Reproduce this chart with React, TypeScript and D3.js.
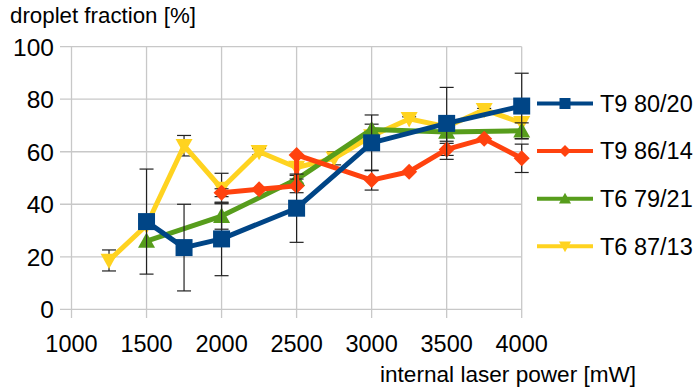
import React from "react";
import * as d3 from "d3";

const W = 697;
const H = 389;

const xTicks = [1000, 1500, 2000, 2500, 3000, 3500, 4000];
const yTicks = [0, 20, 40, 60, 80, 100];

const blueX = [1500, 1750, 2000, 2500, 3000, 3500, 4000];
const blueY = [33.4, 23.5, 26.8, 38.5, 63.4, 70.8, 77.4];
const blueErr = [20, 16.5, 14, 13, 10.6, 13.7, 12.5];

const redX = [2000, 2250, 2500, 2500, 3000, 3250, 3500, 3750, 4000];
const redY = [44.4, 45.7, 47, 58.8, 49.2, 52.4, 60.9, 64.9, 57.5];
const redErr = [1.5, 0, 2.6, 0, 3.8, 0, 2.3, 0, 5.4];

const greenX = [1500, 2000, 2500, 3000, 3500, 4000];
const greenY = [26, 35.5, 49.5, 68.5, 67.5, 68];
const greenErr = [0, 5, 1.5, 2, 3.5, 3];

const yellowX = [1250, 1500, 1750, 2000, 2250, 2500, 2750, 3000, 3250, 3500, 3750, 4000];
const yellowY = [18.6, 32, 62.3, 46, 60, 54, 57.5, 66, 72.5, 69.5, 76, 71];
const yellowErr = [4, 0, 3.9, 5.8, 1.2, 0, 2.5, 0, 0.8, 0, 0.5, 0];

const seriesNames = ["T9 80/20", "T9 86/14", "T6 79/21", "T6 87/13"];
const seriesColors = ["#004586", "#ff420e", "#579d1c", "#ffd320"];
const seriesShapes = ["square", "diamond", "up", "down"];

const FONT = "'Liberation Sans', Arial, sans-serif";

function markerPath(shape: string, cx: number, cy: number, s: number): string {
  const h = s / 2;
  if (shape === "square") return `M${cx - h},${cy - h}H${cx + h}V${cy + h}H${cx - h}Z`;
  if (shape === "diamond") return `M${cx},${cy - h}L${cx + h},${cy}L${cx},${cy + h}L${cx - h},${cy}Z`;
  if (shape === "up") return `M${cx},${cy - h}L${cx + h},${cy + h * 0.8}L${cx - h},${cy + h * 0.8}Z`;
  return `M${cx - h},${cy - h * 0.8}L${cx + h},${cy - h * 0.8}L${cx},${cy + h}Z`;
}

export default function App() {
  const x = d3.scaleLinear().domain([1000, 4000]).range([71.5, 521.7]);
  const y = d3.scaleLinear().domain([0, 100]).range([309.3, 46.7]);

  const series = [
    { xs: blueX, ys: blueY, es: blueErr },
    { xs: redX, ys: redY, es: redErr },
    { xs: greenX, ys: greenY, es: greenErr },
    { xs: yellowX, ys: yellowY, es: yellowErr },
  ];

  const line = d3
    .line<[number, number]>()
    .x((d) => x(d[0]))
    .y((d) => y(d[1]));

  const drawOrder = [3, 2, 1, 0];
  const markerSizes = [17, 16, 17, 17];

  return (
    <svg width={W} height={H} style={{ position: "absolute", left: 0, top: 0, background: "#fff" }}>
      <rect x={0} y={0} width={W} height={H} fill="#fff" />
      {/* grid */}
      {yTicks.map((t) => (
        <line key={"gy" + t} x1={60} x2={x(4000)} y1={y(t)} y2={y(t)} stroke="#c8c8c8" strokeWidth={1.3} />
      ))}
      {xTicks.map((t) => (
        <line key={"gx" + t} x1={x(t)} x2={x(t)} y1={y(100)} y2={318} stroke="#c8c8c8" strokeWidth={1.3} />
      ))}
      {/* tick labels */}
      {yTicks.map((t) => (
        <text key={"ly" + t} x={54} y={y(t)} dy="0.37em" textAnchor="end" fontFamily={FONT} fontSize={24.5} fill="#000">
          {t}
        </text>
      ))}
      {xTicks.map((t) => (
        <text key={"lx" + t} x={x(t)} y={351.5} textAnchor="middle" fontFamily={FONT} fontSize={23.5} fill="#000">
          {t}
        </text>
      ))}
      {/* titles */}
      <text x={10} y={22.5} fontFamily={FONT} fontSize={22.3} fill="#000">
        droplet fraction [%]
      </text>
      <text x={380} y={381.5} fontFamily={FONT} fontSize={22.6} fill="#000">
        internal laser power [mW]
      </text>
      {/* series */}
      {drawOrder.map((si) => {
        const s = series[si];
        const pts: [number, number][] = s.xs.map((xv, i) => [xv, s.ys[i]]);
        return (
          <g key={"s" + si}>
            {pts.map((p, i) =>
              s.es[i] > 0 ? (
                <g key={"e" + i} stroke="#222" strokeWidth={1.2}>
                  <line x1={x(p[0])} x2={x(p[0])} y1={y(p[1] + s.es[i])} y2={y(p[1] - s.es[i])} />
                  <line x1={x(p[0]) - 7} x2={x(p[0]) + 7} y1={y(p[1] + s.es[i])} y2={y(p[1] + s.es[i])} />
                  <line x1={x(p[0]) - 7} x2={x(p[0]) + 7} y1={y(p[1] - s.es[i])} y2={y(p[1] - s.es[i])} />
                </g>
              ) : null
            )}
            <path d={line(pts) || ""} fill="none" stroke={seriesColors[si]} strokeWidth={5} strokeLinejoin="round" />
            {pts.map((p, i) => (
              <path key={"m" + i} d={markerPath(seriesShapes[si], x(p[0]), y(p[1]), markerSizes[si])} fill={seriesColors[si]} />
            ))}
          </g>
        );
      })}
      {/* legend */}
      {seriesNames.map((n, i) => {
        const ly = 103.5 + i * 47.6;
        return (
          <g key={"lg" + i}>
            <line x1={537} x2={593} y1={ly} y2={ly} stroke={seriesColors[i]} strokeWidth={4} />
            <path d={markerPath(seriesShapes[i], 565, ly, i === 0 ? 11 : 12)} fill={seriesColors[i]} />
            <text x={600} y={ly + 8.3} fontFamily={FONT} fontSize={23.5} fill="#000">
              {n}
            </text>
          </g>
        );
      })}
    </svg>
  );
}
